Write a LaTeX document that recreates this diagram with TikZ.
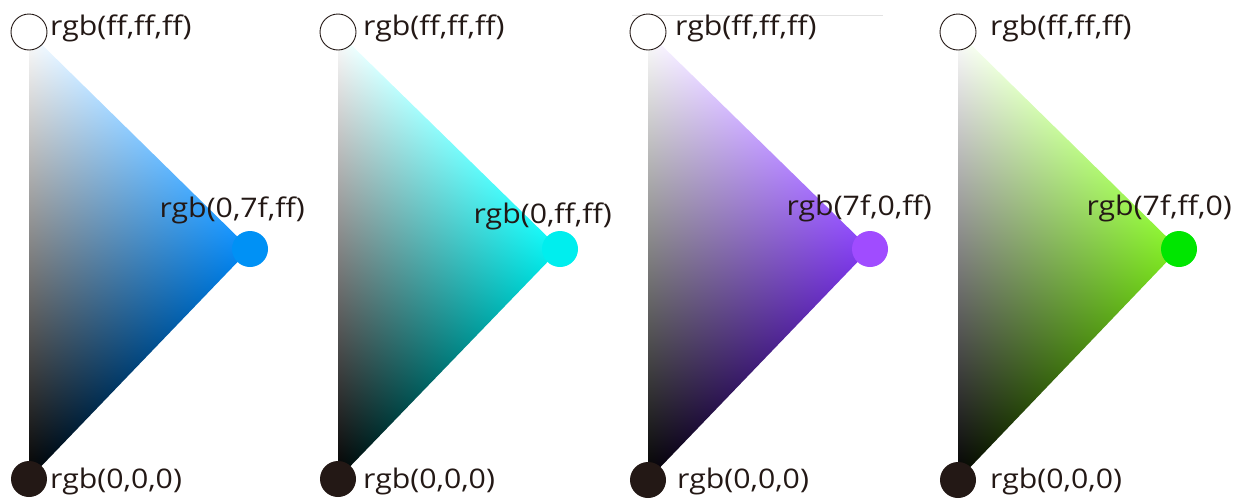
\documentclass[tikz,border=0pt]{standalone}
\usepackage{fontspec}
\setmainfont{Open Sans}[FakeStretch=1.12]
\usetikzlibrary{backgrounds}
\definecolor{cInk}{HTML}{231815}
\definecolor{cBlue}{HTML}{0091F5}
\definecolor{cCyan}{HTML}{00EEEE}
\definecolor{cViolet}{HTML}{A04CFF}
\definecolor{cGreen}{HTML}{00E600}
\definecolor{cRule}{HTML}{E2E2E2}
% white (top left), hue (right), black (bottom left) mixed over the triangle
\newcommand\triblend[4]{%
  \pgfdeclarefunctionalshading{#1}{\pgfpoint{-25bp}{-25bp}}{\pgfpoint{25bp}{25bp}}{}{%
    50 div exch dup 100 div neg 0.25 add 3 -1 roll add exch 50 div 0.5 add
    2 copy #2 mul add 3 1 roll 2 copy #3 mul add 3 1 roll #4 mul add}}
\triblend{triBlue}{0}{0.53}{0.97}
\triblend{triCyan}{0}{0.95}{0.95}
\triblend{triViolet}{0.5}{0.22}{0.95}
\triblend{triGreen}{0.5}{0.93}{0.12}
\tikzset{
  dot/.style     ={circle, minimum size=36pt, inner sep=0pt},
  whitedot/.style={dot, fill=white, draw=cInk, line width=0.9pt},
  blackdot/.style={dot, fill=cInk},
  huedot/.style  ={dot, fill=#1},
  lbl/.style     ={font=\fontsize{27}{30}\selectfont, text=cInk, inner sep=0pt},
}
\begin{document}
\begin{tikzpicture}[x=1pt, y=-1pt]
\useasboundingbox (0,0) rectangle (1247,501);

% panel 1
\node[whitedot] (w1) at (29,32) {};
\node[huedot=cBlue] (h1) at (250,249) {};
\node[blackdot] (b1) at (29,479) {};
\node[lbl, anchor=base west] (tw1) at (50,35) {rgb(ff,ff,ff)};
\node[lbl, anchor=base east] (th1) at (305,217) {rgb(0,7f,ff)};
\node[lbl, anchor=base west] (tb1) at (50,488) {rgb(0,0,0)};

% panel 2
\node[whitedot] (w2) at (338,32) {};
\node[huedot=cCyan] (h2) at (560,249) {};
\node[blackdot] (b2) at (338,479) {};
\node[lbl, anchor=base west] (tw2) at (363,35) {rgb(ff,ff,ff)};
\node[lbl, anchor=base east] (th2) at (612,223) {rgb(0,ff,ff)};
\node[lbl, anchor=base west] (tb2) at (363,488) {rgb(0,0,0)};

% panel 3
\node[whitedot] (w3) at (648,32) {};
\node[huedot=cViolet] (h3) at (870,249) {};
\node[blackdot] (b3) at (648,480) {};
\node[lbl, anchor=base west] (tw3) at (675,35) {rgb(ff,ff,ff)};
\node[lbl, anchor=base east] (th3) at (932,215) {rgb(7f,0,ff)};
\node[lbl, anchor=base west] (tb3) at (677,488) {rgb(0,0,0)};

% panel 4
\node[whitedot] (w4) at (958,32) {};
\node[huedot=cGreen] (h4) at (1179,249) {};
\node[blackdot] (b4) at (958,480) {};
\node[lbl, anchor=base west] (tw4) at (990,35) {rgb(ff,ff,ff)};
\node[lbl, anchor=base east] (th4) at (1232,215) {rgb(7f,ff,0)};
\node[lbl, anchor=base west] (tb4) at (990,488) {rgb(0,0,0)};

\begin{pgfonlayer}{background}
\shade[shading=triBlue]   (w1.center) -- (h1.center) -- (b1.center) -- cycle;
\shade[shading=triCyan]   (w2.center) -- (h2.center) -- (b2.center) -- cycle;
\shade[shading=triViolet] (w3.center) -- (h3.center) -- (b3.center) -- cycle;
\shade[shading=triGreen]  (w4.center) -- (h4.center) -- (b4.center) -- cycle;
\draw[cRule, line width=1pt] (632,15) -- (883,15);
\end{pgfonlayer}
\end{tikzpicture}
\end{document}
